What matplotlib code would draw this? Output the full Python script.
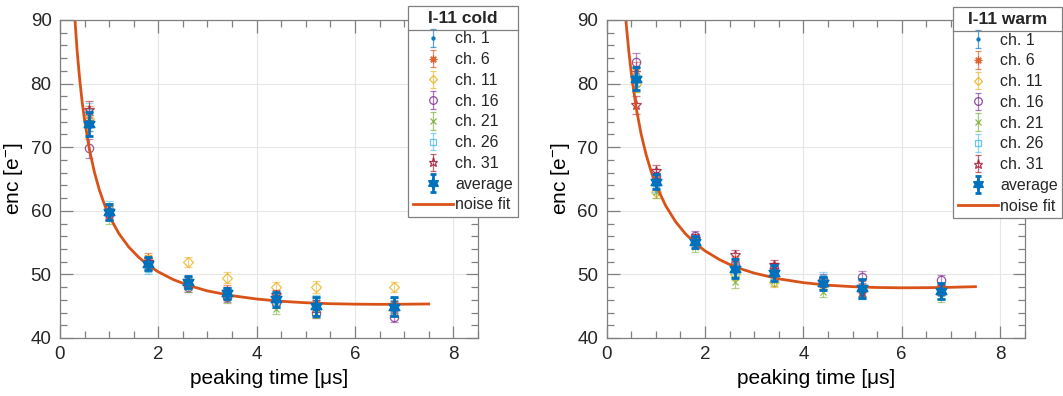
import numpy as np
import matplotlib
matplotlib.use("Agg")
import matplotlib.pyplot as plt
from matplotlib.lines import Line2D
from matplotlib.ticker import MultipleLocator
from matplotlib.legend_handler import HandlerErrorbar
from matplotlib.container import ErrorbarContainer

plt.rcParams['font.family'] = ['Liberation Sans', 'DejaVu Sans']
plt.rcParams['mathtext.fontset'] = 'custom'
plt.rcParams['mathtext.rm'] = 'Liberation Sans'
plt.rcParams['mathtext.it'] = 'Liberation Sans:italic'
plt.rcParams['text.color'] = '#262626'

# peaking times (us)
peaking_time = [0.6, 1.0, 1.8, 2.6, 3.4, 4.4, 5.2, 6.8]
channels = ['ch. 1', 'ch. 6', 'ch. 11', 'ch. 16', 'ch. 21', 'ch. 26', 'ch. 31']

# I-11 cold
cold_enc = [
    [74.0, 59.5, 51.5, 48.5, 47.0, 46.0, 45.0, 44.8],
    [75.0, 60.0, 52.5, 49.0, 47.5, 46.5, 45.5, 45.5],
    [74.5, 60.3, 52.3, 52.0, 49.5, 48.0, 48.0, 48.0],
    [69.8, 59.5, 51.8, 48.0, 46.5, 45.5, 44.0, 43.3],
    [74.0, 59.0, 51.3, 48.0, 46.3, 44.5, 44.0, 44.3],
    [75.5, 60.5, 50.8, 48.5, 47.0, 46.5, 45.8, 45.5],
    [75.8, 59.8, 52.0, 48.8, 47.2, 46.8, 45.0, 45.0],
]
cold_err = [1.5, 1.0, 0.8, 0.8, 0.8, 0.8, 0.9, 0.8]
cold_avg = [73.7, 59.8, 51.7, 48.8, 47.0, 46.1, 45.0, 44.9]
cold_avg_err = [1.9, 1.2, 1.0, 1.0, 0.9, 1.2, 1.5, 1.5]
cold_fit_t = [0.30, 0.35, 0.40, 0.45, 0.50, 0.60, 0.70, 0.80, 0.90, 1.00, 1.20, 1.40,
              1.60, 1.80, 2.00, 2.30, 2.60, 3.00, 3.50, 4.00, 4.50, 5.00, 5.50, 6.00,
              6.50, 7.00, 7.50]
cold_fit = [90.6, 85.1, 80.8, 77.2, 74.3, 69.6, 66.1, 63.3, 61.1, 59.2, 56.4, 54.3,
            52.7, 51.4, 50.4, 49.2, 48.3, 47.4, 46.65, 46.13, 45.77, 45.54, 45.39, 45.32,
            45.29, 45.31, 45.35]

# I-11 warm
warm_enc = [
    [81.0, 64.5, 55.0, 50.5, 50.0, 48.5, 47.0, 47.0],
    [82.0, 65.0, 55.5, 52.0, 51.0, 48.5, 48.0, 47.5],
    [80.0, 63.0, 55.0, 50.0, 48.8, 48.3, 47.5, 47.0],
    [83.4, 65.5, 56.0, 51.5, 51.0, 49.3, 49.6, 49.1],
    [80.0, 63.0, 54.3, 48.8, 49.0, 47.3, 47.5, 46.4],
    [81.0, 64.0, 55.0, 51.0, 50.0, 49.5, 47.5, 47.0],
    [76.6, 66.2, 55.5, 53.0, 51.5, 48.8, 47.3, 47.5],
]
warm_err = [1.4, 1.0, 0.8, 0.9, 0.8, 0.8, 0.9, 0.8]
warm_avg = [80.8, 64.6, 55.1, 50.9, 50.2, 48.6, 47.8, 47.4]
warm_avg_err = [1.8, 1.2, 1.0, 1.5, 1.2, 1.0, 1.5, 1.2]
warm_fit_t = [0.38, 0.40, 0.45, 0.50, 0.60, 0.70, 0.80, 0.90, 1.00, 1.20, 1.40, 1.60,
              1.80, 2.00, 2.30, 2.60, 3.00, 3.50, 4.00, 4.50, 5.00, 5.50, 6.00, 6.50,
              7.00, 7.50]
warm_fit = [91.1, 89.2, 85.1, 81.7, 76.2, 72.1, 68.9, 66.3, 64.1, 60.8, 58.3, 56.4,
            54.9, 53.7, 52.3, 51.2, 50.2, 49.3, 48.7, 48.3, 48.07, 47.94, 47.89, 47.91,
            47.97, 48.07]

colors = ['#0072BD', '#D95319', '#EDB120', '#7E2F8E', '#77AC30', '#4DBEEE', '#A2142F']
markers = ['.', (8, 2, 0), 'D', 'o', 'x', 's', '*']
msizes = [5, 6, 5, 6, 5, 5, 7]

# filled hexagram for the average
ang = np.deg2rad(90 + 30 * np.arange(12))
rad = np.where(np.arange(12) % 2 == 0, 1.0, 0.577)
hexagram = list(zip(rad * np.cos(ang), rad * np.sin(ang)))


def draw_panel(fig, rect, enc, err, avg, avg_err, fit_t, fit, title, leg_anchor):
    ax = fig.add_axes(rect)
    handles = []
    for i, name in enumerate(channels):
        face = colors[i] if markers[i] == '.' else 'none'
        ax.errorbar(peaking_time, enc[i], yerr=err, fmt='none', ecolor=colors[i],
                    elinewidth=0.9, capsize=3, capthick=0.9, alpha=0.55)
        ax.plot(peaking_time, enc[i], linestyle='none', marker=markers[i],
                ms=msizes[i], mfc=face, mec=colors[i], mew=0.9, alpha=0.8)
        # legend proxy: errorbar + marker in one container
        h = ax.errorbar([np.nan], [np.nan], yerr=[1], fmt='none', ecolor=colors[i],
                        elinewidth=0.9, capsize=2.5, capthick=0.9, alpha=0.65)
        m = Line2D([], [], linestyle='none', marker=markers[i], ms=msizes[i] - 0.5,
                   mfc=face, mec=colors[i], mew=0.9, alpha=0.85)
        handles.append(ErrorbarContainer((m, h.lines[1], h.lines[2]),
                                         has_xerr=False, has_yerr=True))
    ax.plot(fit_t, fit, color='#D95319', lw=2.0)
    ax.errorbar(peaking_time, avg, yerr=avg_err, fmt='none', ecolor='#0072BD',
                elinewidth=2.0, capsize=3, capthick=2.0)
    ax.plot(peaking_time, avg, linestyle='none', marker=hexagram, ms=9,
            color='#0072BD')

    ax.set_xlim(0, 8.5)
    ax.set_ylim(40, 90)
    ax.xaxis.set_major_locator(MultipleLocator(2))
    ax.xaxis.set_minor_locator(MultipleLocator(0.5))
    ax.yaxis.set_major_locator(MultipleLocator(10))
    ax.yaxis.set_minor_locator(MultipleLocator(2))
    ax.tick_params(which='both', direction='in', top=True, right=True,
                   color='#808080', labelcolor='#262626', labelsize=13.5)
    ax.tick_params(which='major', length=9, width=0.9, pad=6)
    ax.tick_params(which='minor', length=5, width=0.9)
    for s in ax.spines.values():
        s.set_color('#808080')
        s.set_linewidth(0.9)
    ax.grid(True, which='major', color='#e6e6e6', lw=0.8)
    ax.set_axisbelow(True)
    ax.set_xlabel('peaking time [\u03bcs]', fontsize=15)
    ax.set_ylabel('enc [e$^{-}$]', fontsize=15, labelpad=4)

    avg_eb = ax.errorbar([np.nan], [np.nan], yerr=[1], fmt='none', ecolor='#0072BD',
                         elinewidth=2.0, capsize=2.5, capthick=2.0)
    avg_m = Line2D([], [], linestyle='none', marker=hexagram, ms=8, color='#0072BD')
    handles.append(ErrorbarContainer((avg_m, avg_eb.lines[1], avg_eb.lines[2]),
                                     has_xerr=False, has_yerr=True))
    handles.append(Line2D([], [], color='#D95319', lw=2.0))
    labels = channels + ['average', 'noise fit']
    leg = ax.legend(handles, labels, loc='upper right', bbox_to_anchor=leg_anchor,
                    bbox_transform=fig.transFigure, borderaxespad=0, fontsize=11.5,
                    title=title, title_fontproperties={'weight': 'bold', 'size': 12.5},
                    handlelength=2.5, handletextpad=0.15, labelspacing=0.36,
                    borderpad=0.3, fancybox=False, framealpha=1, edgecolor='#808080',
                    handler_map={ErrorbarContainer: HandlerErrorbar(xerr_size=0.5,
                                                                    yerr_size=0.55)})
    leg.get_frame().set_linewidth(0.9)
    return ax, leg


fig = plt.figure(figsize=(10.63, 3.96), dpi=100)
ax1, leg1 = draw_panel(fig, [0.0564, 0.1465, 0.3932, 0.803], cold_enc, cold_err, cold_avg,
                       cold_avg_err, cold_fit_t, cold_fit, 'I-11 cold', (0.4873, 0.985))
ax2, leg2 = draw_panel(fig, [0.5707, 0.1465, 0.3932, 0.803], warm_enc, warm_err, warm_avg,
                       warm_avg_err, warm_fit_t, warm_fit, 'I-11 warm', (0.9995, 0.982))

# separator line under each legend title
fig.canvas.draw()
inv = fig.transFigure.inverted()
for leg in [leg1, leg2]:
    bb = leg.get_frame().get_window_extent()
    tb = leg.get_title().get_window_extent()
    y = tb.y0 - 4
    (x0, yf), (x1, _) = inv.transform([(bb.x0, y), (bb.x1, y)])
    fig.add_artist(Line2D([x0, x1], [yf, yf], transform=fig.transFigure,
                          color='#808080', lw=0.9))

fig.savefig('out.png', dpi=100)
